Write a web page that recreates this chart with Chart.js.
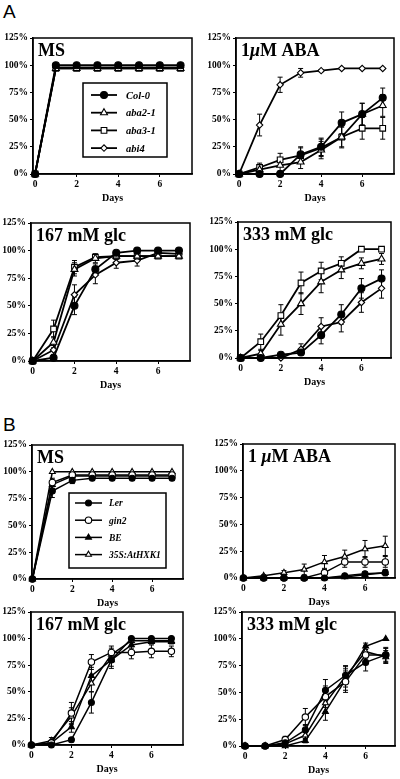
<!DOCTYPE html>
<html>
<head>
<meta charset="utf-8">
<script src="https://cdn.jsdelivr.net/npm/chart.js@4.4.1/dist/chart.umd.min.js"></script>
<style>
  body { margin: 0; background: #fff; }
  #page { position: relative; width: 400px; height: 779px; overflow: hidden; }
  .panel { position: absolute; font-family: "Liberation Sans", Arial, sans-serif; font-size: 19px; color: #000; }
  canvas { position: absolute; }
</style>
</head>
<body>
<div id="page">
  <div class="panel" style="left:3px;top:1px;">A</div>
  <div class="panel" style="left:3px;top:414px;">B</div>
</div>
<script>
// days on the x axis
const days = [0, 1, 2, 3, 4, 5, 6, 7];
const xTicks = [0, 2, 4, 6];
const yTicks = [0, 25, 50, 75, 100, 125];

// Panel A – MS
const aMS_col0 = [0, 100, 100, 100, 100, 100, 100, 100];
const aMS_aba2 = [0, 97, 97, 97, 97, 97, 97, 97];
const aMS_aba3 = [0, 97, 97, 97, 97, 97, 97, 97];
const aMS_abi4 = [0, 98, 98, 98, 98, 98, 98, 98];

// Panel A – 1 uM ABA
const aABA_col0 = [0, 0, 0, 18, 25, 47, 55, 70];
const aABA_col0_err = [0, 0, 0, 7, 8, 10, 10, 9];
const aABA_aba2 = [0, 4, 8, 11, 22, 34, 55, 63];
const aABA_aba2_err = [0, 3, 5, 6, 8, 10, 10, 10];
const aABA_aba3 = [0, 6, 13, 17, 24, 34, 42, 42];
const aABA_aba3_err = [0, 4, 6, 7, 8, 9, 10, 10];
const aABA_abi4 = [0, 45, 82, 93, 95, 97, 97, 97];
const aABA_abi4_err = [0, 10, 7, 4, 1, 0, 0, 0];

// Panel A – 167 mM glc
const aG167_col0 = [0, 3, 50, 83, 98, 100, 100, 100];
const aG167_col0_err = [0, 2, 8, 5, 2, 0, 0, 0];
const aG167_aba2 = [0, 17, 83, 93, 95, 95, 95, 95];
const aG167_aba2_err = [0, 5, 6, 4, 3, 2, 2, 2];
const aG167_aba3 = [0, 29, 85, 94, 95, 95, 95, 95];
const aG167_aba3_err = [0, 8, 6, 3, 2, 2, 2, 2];
const aG167_abi4 = [0, 10, 60, 78, 89, 91, 98, 97];
const aG167_abi4_err = [0, 4, 9, 8, 5, 5, 2, 2];

// Panel A – 333 mM glc
const aG333_col0 = [0, 0, 3, 5, 21, 40, 64, 73];
const aG333_col0_err = [0, 0, 1, 2, 8, 9, 9, 8];
const aG333_aba2 = [0, 4, 31, 50, 70, 81, 87, 91];
const aG333_aba2_err = [0, 3, 10, 10, 10, 8, 5, 5];
const aG333_aba3 = [0, 15, 39, 69, 80, 87, 100, 100];
const aG333_aba3_err = [0, 7, 10, 10, 8, 6, 0, 0];
const aG333_abi4 = [0, 0, 0, 8, 29, 33, 51, 64];
const aG333_abi4_err = [0, 0, 0, 5, 8, 9, 9, 9];

// Panel B – MS
const bMS_ler = [0, 82, 92, 94, 94, 94, 94, 94];
const bMS_ler_err = [0, 6, 3, 1, 1, 1, 1, 1];
const bMS_gin2 = [0, 90, 97, 97, 97, 97, 97, 97];
const bMS_gin2_err = [0, 4, 1, 0, 0, 0, 0, 0];
const bMS_be = [0, 88, 96, 96, 96, 96, 96, 96];
const bMS_be_err = [0, 4, 1, 0, 0, 0, 0, 0];
const bMS_hxk = [0, 100, 100, 100, 100, 100, 100, 100];

// Panel B – 1 uM ABA
const bABA_ler = [0, 0, 0, 0, 0, 2, 4, 5];
const bABA_ler_err = [0, 0, 0, 0, 0, 1, 2, 2];
const bABA_gin2 = [0, 0, 0, 0, 5, 15, 15, 15];
const bABA_gin2_err = [0, 0, 0, 0, 3, 5, 5, 5];
const bABA_be = [0, 0, 0, 0, 0, 1, 3, 5];
const bABA_be_err = [0, 0, 0, 0, 0, 1, 2, 3];
const bABA_hxk = [0, 2, 5, 8, 15, 20, 27, 30];
const bABA_hxk_err = [0, 1, 2, 5, 6, 6, 8, 9];

// Panel B – 167 mM glc
const bG167_ler = [0, 0, 5, 40, 80, 100, 100, 100];
const bG167_ler_err = [0, 0, 2, 10, 8, 0, 0, 0];
const bG167_gin2 = [0, 2, 30, 78, 87, 87, 88, 88];
const bG167_gin2_err = [0, 1, 10, 7, 6, 6, 6, 5];
const bG167_be = [0, 2, 17, 65, 80, 94, 97, 97];
const bG167_be_err = [0, 1, 5, 8, 6, 3, 2, 2];
const bG167_hxk = [0, 4, 27, 58, 85, 98, 98, 98];
const bG167_hxk_err = [0, 3, 8, 8, 6, 2, 2, 2];

// Panel B – 333 mM glc
const bG333_ler = [0, 0, 3, 15, 52, 66, 78, 85];
const bG333_ler_err = [0, 0, 1, 5, 10, 8, 8, 7];
const bG333_gin2 = [0, 0, 6, 27, 46, 60, 85, 85];
const bG333_gin2_err = [0, 0, 3, 8, 10, 10, 8, 6];
const bG333_be = [0, 0, 0, 5, 32, 62, 93, 100];
const bG333_be_err = [0, 0, 0, 2, 8, 10, 3, 0];
const bG333_hxk = [0, 0, 2, 10, 40, 65, 88, 83];
const bG333_hxk_err = [0, 0, 1, 4, 8, 10, 6, 6];

// marker styles per genotype
const STY = {
  'Col-0':      { pointStyle: 'circle',   radius: 3.5, fill: '#000', lw: 1.8 },
  'aba2-1':     { pointStyle: 'triangle', radius: 4,   fill: '#fff', lw: 1.8 },
  'aba3-1':     { pointStyle: 'rect',     radius: 4,   fill: '#fff', lw: 1.8 },
  'abi4':       { pointStyle: 'rectRot',  radius: 3.2, fill: '#fff', lw: 1.8 },
  'Ler':        { pointStyle: 'circle',   radius: 3,   fill: '#000', lw: 1.5 },
  'gin2':       { pointStyle: 'circle',   radius: 3.2, fill: '#fff', lw: 1.5 },
  'BE':         { pointStyle: 'triangle', radius: 3.4, fill: '#000', lw: 1.5 },
  '35S:AtHXK1': { pointStyle: 'triangle', radius: 3.4, fill: '#fff', lw: 1.5 }
};

const SERIF = '"Liberation Serif", "DejaVu Serif", serif';
const YW = 36, PADT = 8, PADR = 8, XH = 32;

function series(name, values, err) {
  const s = STY[name];
  return {
    label: name,
    data: days.map((d, i) => ({ x: d, y: values[i] })),
    err: err || null,
    borderColor: '#000',
    borderWidth: s.lw,
    pointStyle: s.pointStyle,
    pointRadius: s.radius,
    pointBackgroundColor: s.fill,
    pointBorderColor: '#000',
    pointBorderWidth: 1.1,
    tension: 0,
    clip: false
  };
}

const framePlugin = {
  id: 'frame',
  beforeDatasetsDraw(chart) {
    const ctx = chart.ctx, ys = chart.scales.y;
    ctx.save();
    ctx.strokeStyle = '#000';
    ctx.lineWidth = 1;
    chart.data.datasets.forEach((ds, i) => {
      if (!ds.err) return;
      const meta = chart.getDatasetMeta(i);
      meta.data.forEach((pt, j) => {
        const e = ds.err[j];
        if (!e) return;
        const v = ds.data[j].y;
        const y1 = ys.getPixelForValue(v + e), y2 = ys.getPixelForValue(v - e);
        ctx.beginPath();
        ctx.moveTo(pt.x, y1); ctx.lineTo(pt.x, y2);
        ctx.moveTo(pt.x - 2.5, y1); ctx.lineTo(pt.x + 2.5, y1);
        ctx.moveTo(pt.x - 2.5, y2); ctx.lineTo(pt.x + 2.5, y2);
        ctx.stroke();
      });
    });
    ctx.restore();
  },
  afterDraw(chart) {
    const ctx = chart.ctx, a = chart.chartArea, o = chart.options.plugins.frame;
    ctx.save();
    ctx.strokeStyle = '#000';
    ctx.lineWidth = 1.5;
    ctx.strokeRect(a.left, a.top, a.right - a.left, a.bottom - a.top);
    // title inside the box
    ctx.fillStyle = '#000';
    ctx.textBaseline = 'alphabetic';
    let x = a.left + 5;
    o.title.forEach(part => {
      ctx.font = (part.italic ? 'italic ' : '') + 'bold 18px ' + SERIF;
      ctx.fillText(part.t, x, a.top + 18);
      x += ctx.measureText(part.t).width;
    });
    // axis title
    ctx.font = 'bold 10px ' + SERIF;
    ctx.textAlign = 'center';
    ctx.fillText('Days', (a.left + a.right) / 2, a.bottom + 27);
    // legend
    if (o.legend) {
      const L = o.legend;
      ctx.lineWidth = 1.5;
      ctx.strokeRect(a.left + L.x, a.top + L.y, L.w, L.h);
      chart.data.datasets.forEach((ds, i) => {
        const cy = a.top + L.y + L.first + i * L.step;
        const lx = a.left + L.x + L.lineX;
        ctx.strokeStyle = '#000';
        ctx.lineWidth = ds.borderWidth;
        ctx.beginPath(); ctx.moveTo(lx, cy); ctx.lineTo(lx + L.lineW, cy); ctx.stroke();
        ctx.fillStyle = ds.pointBackgroundColor;
        ctx.lineWidth = 1.1;
        Chart.helpers.drawPoint(ctx, { pointStyle: ds.pointStyle, radius: ds.pointRadius, rotation: 0, borderWidth: 1.1 }, lx + L.lineW / 2, cy);
        ctx.fillStyle = '#000';
        ctx.textAlign = 'left';
        ctx.textBaseline = 'middle';
        ctx.font = 'italic bold ' + L.font + 'px ' + SERIF;
        ctx.fillText(ds.label, lx + L.lineW + L.gap, cy + 1);
      });
    }
    ctx.restore();
  }
};

function makeChart(box, xr, title, datasets, legend) {
  const w = box.r - box.l + YW + PADR, h = box.b - box.t + PADT + XH;
  const cv = document.createElement('canvas');
  cv.width = w; cv.height = h;
  cv.style.left = (box.l - YW) + 'px';
  cv.style.top = (box.t - PADT) + 'px';
  document.getElementById('page').appendChild(cv);
  const tickFont = { family: SERIF, size: 9.5, weight: 'bold' };
  return new Chart(cv.getContext('2d'), {
    type: 'line',
    data: { datasets },
    options: {
      responsive: false,
      animation: false,
      layout: { autoPadding: false, padding: { top: PADT, right: PADR, left: 0, bottom: 0 } },
      plugins: { legend: { display: false }, tooltip: { enabled: false }, frame: { title, legend } },
      scales: {
        x: {
          type: 'linear', min: xr[0], max: xr[1],
          afterFit(s) { s.height = XH; },
          afterBuildTicks(s) { s.ticks = xTicks.map(v => ({ value: v })); },
          grid: { drawOnChartArea: false, tickLength: 3, color: '#000', lineWidth: 1 },
          border: { color: '#000', width: 1.5 },
          ticks: { color: '#000', font: tickFont, padding: 2, maxRotation: 0 }
        },
        y: {
          min: 0, max: 125,
          afterFit(s) { s.width = YW; },
          afterBuildTicks(s) { s.ticks = yTicks.map(v => ({ value: v })); },
          grid: { drawOnChartArea: false, tickLength: 3, color: '#000', lineWidth: 1 },
          border: { color: '#000', width: 1.5 },
          ticks: { color: '#000', font: tickFont, padding: 2, callback: v => v + '%' }
        }
      }
    },
    plugins: [framePlugin]
  });
}

const legA = { x: 50, y: 45, w: 84, h: 74, first: 12, step: 17.7, lineX: 8, lineW: 26, gap: 9, font: 10.5 };
const legB = { x: 37, y: 48, w: 97, h: 75, first: 10, step: 17.2, lineX: 6, lineW: 27, gap: 7, font: 9.5 };

// Panel A
makeChart({ l: 33, t: 38, r: 192, b: 174 }, [-0.1, 7.55], [{ t: 'MS' }], [
  series('Col-0', aMS_col0),
  series('aba2-1', aMS_aba2),
  series('aba3-1', aMS_aba3),
  series('abi4', aMS_abi4)
], legA);

makeChart({ l: 236, t: 38, r: 394, b: 174 }, [-0.15, 7.55], [{ t: '1' }, { t: 'μ', italic: true }, { t: 'M ABA' }], [
  series('Col-0', aABA_col0, aABA_col0_err),
  series('aba2-1', aABA_aba2, aABA_aba2_err),
  series('aba3-1', aABA_aba3, aABA_aba3_err),
  series('abi4', aABA_abi4, aABA_abi4_err)
]);

makeChart({ l: 31, t: 223, r: 190, b: 361 }, [-0.08, 7.53], [{ t: '167 mM glc' }], [
  series('Col-0', aG167_col0, aG167_col0_err),
  series('aba2-1', aG167_aba2, aG167_aba2_err),
  series('aba3-1', aG167_aba3, aG167_aba3_err),
  series('abi4', aG167_abi4, aG167_abi4_err)
]);

makeChart({ l: 238, t: 222, r: 391, b: 358 }, [-0.13, 7.47], [{ t: '333 mM glc' }], [
  series('Col-0', aG333_col0, aG333_col0_err),
  series('aba2-1', aG333_aba2, aG333_aba2_err),
  series('aba3-1', aG333_aba3, aG333_aba3_err),
  series('abi4', aG333_abi4, aG333_abi4_err)
]);

// Panel B
makeChart({ l: 32, t: 445, r: 183, b: 579 }, [-0.02, 7.55], [{ t: 'MS' }], [
  series('Ler', bMS_ler, bMS_ler_err),
  series('gin2', bMS_gin2, bMS_gin2_err),
  series('BE', bMS_be, bMS_be_err),
  series('35S:AtHXK1', bMS_hxk)
], legB);

makeChart({ l: 243, t: 444, r: 395, b: 578 }, [-0.02, 7.48], [{ t: '1 ' }, { t: 'μ', italic: true }, { t: 'M ABA' }], [
  series('Ler', bABA_ler, bABA_ler_err),
  series('gin2', bABA_gin2, bABA_gin2_err),
  series('BE', bABA_be, bABA_be_err),
  series('35S:AtHXK1', bABA_hxk, bABA_hxk_err)
]);

makeChart({ l: 31, t: 612, r: 183, b: 745 }, [-0.02, 7.58], [{ t: '167 mM glc' }], [
  series('Ler', bG167_ler, bG167_ler_err),
  series('gin2', bG167_gin2, bG167_gin2_err),
  series('BE', bG167_be, bG167_be_err),
  series('35S:AtHXK1', bG167_hxk, bG167_hxk_err)
]);

makeChart({ l: 242, t: 612, r: 395, b: 746 }, [-0.15, 7.46], [{ t: '333 mM glc' }], [
  series('Ler', bG333_ler, bG333_ler_err),
  series('gin2', bG333_gin2, bG333_gin2_err),
  series('BE', bG333_be, bG333_be_err),
  series('35S:AtHXK1', bG333_hxk, bG333_hxk_err)
]);
</script>
</body>
</html>
